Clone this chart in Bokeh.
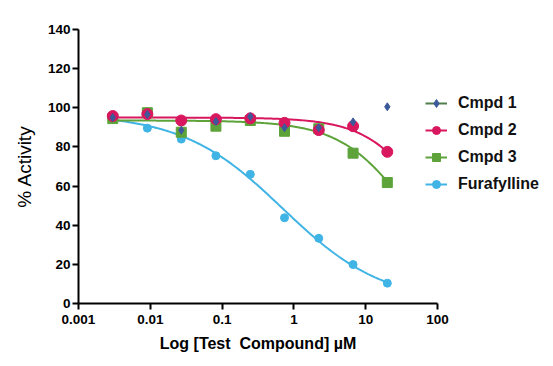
import numpy as np
from bokeh.plotting import figure
from bokeh.models import (Range1d, FixedTicker, CustomJSTickFormatter, Legend, LegendItem)
from bokeh.embed import file_html
from bokeh.resources import INLINE

# ---- data ----
conc = [0.003, 0.0091, 0.027, 0.082, 0.247, 0.74, 2.22, 6.67, 20.0]
cmpd1 = [95.0, 96.6, 88.5, 93.0, 95.5, 89.8, 89.8, 92.8, 100.5]
cmpd2 = [95.8, 96.8, 93.5, 94.2, 94.6, 92.3, 88.6, 90.6, 77.5]
cmpd3 = [94.5, 97.5, 87.5, 90.6, 93.5, 88.0, 89.3, 76.8, 61.8]
fura = [94.3, 89.6, 84.0, 75.5, 66.0, 43.8, 33.3, 19.9, 10.4]

# 4-parameter logistic fits: top, bottom, IC50 (uM), Hill slope
fit_cmpd2 = [95.0, 0.0, 88.0, 1.0]
fit_cmpd3 = [93.5, 0.0, 43.0, 0.9]
fit_fura = [97.0, 0.0, 0.7, 0.62]

x_ticks = [0.001, 0.01, 0.1, 1, 10, 100]
y_ticks = [0, 20, 40, 60, 80, 100, 120, 140]
series_names = ["Cmpd 1", "Cmpd 2", "Cmpd 3", "Furafylline"]

c1_marker = "#3C5A9A"
c1_line = "#4E7F4A"
c2 = "#D8175E"
c3 = "#5DA33A"
c4 = "#40B4E5"

FONT = "Liberation Sans"


def fit_curve(params):
    top, bottom, ic50, hill = params
    xs = np.logspace(np.log10(conc[0]), np.log10(conc[-1]), 200)
    ys = bottom + (top - bottom) / (1.0 + (xs / ic50) ** hill)
    return xs, ys


p = figure(frame_width=359, frame_height=274, x_axis_type="log",
           x_range=Range1d(0.001, 100), y_range=Range1d(0, 140),
           output_backend="svg", toolbar_location=None,
           min_border_left=78, min_border_right=0, min_border_top=29, min_border_bottom=55)
p.outline_line_color = None
p.xgrid.visible = False
p.ygrid.visible = False
p.background_fill_color = "white"
p.border_fill_color = "white"

for ax in (p.xaxis[0], p.yaxis[0]):
    ax.axis_line_width = 2
    ax.axis_line_color = "black"
    ax.major_tick_line_width = 2
    ax.major_tick_line_color = "black"
    ax.major_tick_in = 0
    ax.major_tick_out = 6
    ax.minor_tick_line_color = None
    ax.major_label_text_font = FONT
    ax.major_label_text_font_style = "bold"
    ax.major_label_text_font_size = "13.5px"
    ax.major_label_text_color = "black"
    ax.axis_label_text_font = FONT
    ax.axis_label_text_color = "black"

p.xaxis[0].ticker = FixedTicker(ticks=x_ticks)
p.xaxis[0].formatter = CustomJSTickFormatter(code="return tick.toString();")
p.xaxis[0].major_label_standoff = 5
p.xaxis[0].axis_label = "Log [Test\u00a0 Compound] \u00b5M"
p.xaxis[0].axis_label_text_font_style = "bold"
p.xaxis[0].axis_label_text_font_size = "16px"
p.xaxis[0].axis_label_standoff = 8

p.yaxis[0].ticker = FixedTicker(ticks=y_ticks)
p.yaxis[0].major_label_standoff = 2
p.yaxis[0].axis_label = "% Activity"
p.yaxis[0].axis_label_text_font_style = "normal"
p.yaxis[0].axis_label_text_font_size = "19px"
p.yaxis[0].axis_label_standoff = 10

# curves
xf, yf = fit_curve(fit_fura)
l4 = p.line(xf, yf, line_color=c4, line_width=2)
x3, y3 = fit_curve(fit_cmpd3)
l3 = p.line(x3, y3, line_color=c3, line_width=2)
x2, y2 = fit_curve(fit_cmpd2)
l2 = p.line(x2, y2, line_color=c2, line_width=2)
# Cmpd 1 has no fitted curve on the plot; a one-point line only supplies the legend line
l1 = p.line(conc[-1:], cmpd1[-1:], line_color=c1_line, line_width=2)

# points
s4 = p.scatter(conc, fura, marker="circle", size=8, fill_color=c4, line_color=c4)
s3 = p.scatter(conc, cmpd3, marker="square", size=10, fill_color=c3, line_color=c3)
s2 = p.scatter(conc, cmpd2, marker="circle", size=11, fill_color=c2, line_color=c2)
s1 = p.scatter(conc, cmpd1, marker="diamond", size=8, fill_color=c1_marker, line_color=c1_marker)

legend = Legend(items=[
    LegendItem(label=series_names[0], renderers=[l1, s1]),
    LegendItem(label=series_names[1], renderers=[l2, s2]),
    LegendItem(label=series_names[2], renderers=[l3, s3]),
    LegendItem(label=series_names[3], renderers=[l4, s4]),
], location=(-12, 109))
legend.border_line_color = None
legend.background_fill_alpha = 0
legend.padding = 0
legend.margin = 0
legend.spacing = 7
legend.glyph_width = 22
legend.glyph_height = 20
legend.label_height = 20
legend.label_standoff = 11
legend.label_text_font = FONT
legend.label_text_font_style = "bold"
legend.label_text_font_size = "16px"
legend.label_text_color = "#111111"
p.add_layout(legend, "right")

open("out.html", "w").write(file_html(p, INLINE))
